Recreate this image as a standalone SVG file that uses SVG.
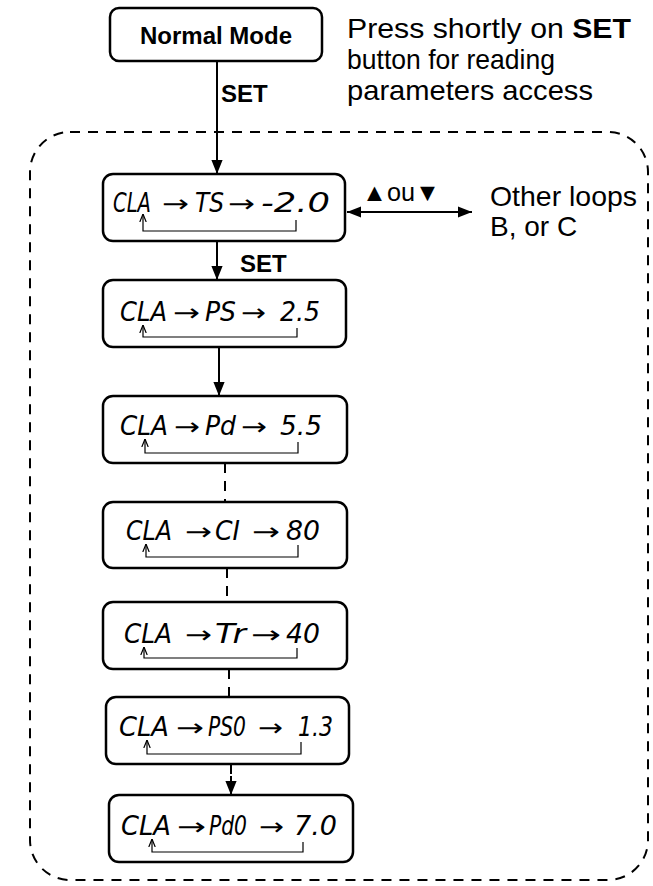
<svg xmlns="http://www.w3.org/2000/svg" width="653" height="886" viewBox="0 0 653 886">
<defs>
<style>
.box{fill:#fff;stroke:#000;stroke-width:2.5}
.lbl{font-family:"Liberation Sans",Arial,sans-serif;fill:#000}
.seg{font-family:"DejaVu Sans",sans-serif;font-style:italic;font-size:26px;fill:#000}
.ar{font-family:"DejaVu Sans",sans-serif;font-size:24px;fill:#000}
.con{stroke:#000;stroke-width:2;fill:none}
.dash{stroke:#000;stroke-width:2;fill:none;stroke-dasharray:10 8}
.brk{stroke:#000;stroke-width:1.2;fill:none}
</style>
<marker id="ah2" viewBox="0 0 10 10" refX="10" refY="5" markerWidth="14" markerHeight="14" orient="auto-start-reverse" markerUnits="userSpaceOnUse">
<path d="M0,1 L10,5 L0,9 z" fill="#000"/>
</marker>
<marker id="sm" viewBox="0 0 10 10" refX="10" refY="5" markerWidth="8" markerHeight="8" orient="auto" markerUnits="userSpaceOnUse">
<path d="M0,1 L10,5 L0,9" fill="none" stroke="#000" stroke-width="1.5"/>
</marker>
</defs>
<rect width="653" height="886" fill="#fff"/>

<path class="dash" d="M70,132 H608 A40,40 0 0 1 648,172 V840 A40,40 0 0 1 608,880 H70 A40,40 0 0 1 30,840 V172 A40,40 0 0 1 70,132 Z"/>

<g id="connectors">
<line class="con" x1="217" y1="61" x2="217" y2="174" marker-end="url(#ah2)"/>
<line class="con" x1="217" y1="241" x2="217" y2="280" marker-end="url(#ah2)"/>
<line class="con" x1="219" y1="347" x2="219" y2="396" marker-end="url(#ah2)"/>
<line class="dash" x1="225" y1="463" x2="225" y2="502"/>
<line class="dash" x1="227" y1="568" x2="227" y2="602"/>
<line class="dash" x1="229" y1="669" x2="229" y2="697"/>
<line class="dash" x1="231" y1="764" x2="231" y2="778" stroke-dasharray="6 4"/>
<line class="con" x1="231" y1="776" x2="231" y2="795" marker-end="url(#ah2)"/>
<line class="con" x1="347" y1="212" x2="472" y2="212" marker-start="url(#ah2)" marker-end="url(#ah2)"/>
<text class="lbl" x="221" y="102" font-size="24" font-weight="bold">SET</text>
<text class="lbl" x="240" y="272" font-size="24" font-weight="bold">SET</text>
<text class="lbl" x="362" y="201" font-size="25" textLength="78" lengthAdjust="spacingAndGlyphs">▲ou▼</text>
</g>

<g id="normal-mode">
<rect class="box" x="110" y="8" width="212" height="53" rx="9"/>
<text class="lbl" x="216" y="44" font-size="24" font-weight="bold" text-anchor="middle">Normal Mode</text>
</g>

<g id="note">
<text class="lbl" x="347" y="38" font-size="28" textLength="284" lengthAdjust="spacingAndGlyphs">Press shortly on <tspan font-weight="bold">SET</tspan></text>
<text class="lbl" x="347" y="69" font-size="28" textLength="208" lengthAdjust="spacingAndGlyphs">button for reading</text>
<text class="lbl" x="347" y="100" font-size="28" textLength="246" lengthAdjust="spacingAndGlyphs">parameters access</text>
</g>

<g id="other-loops">
<text class="lbl" x="490" y="206" font-size="28" textLength="147" lengthAdjust="spacingAndGlyphs">Other loops</text>
<text class="lbl" x="490" y="236" font-size="28">B, or C</text>
</g>

<g id="ts">
<rect class="box" x="103" y="174" width="242" height="67" rx="10"/>
<text class="seg" x="113" y="212" textLength="38" lengthAdjust="spacingAndGlyphs">CLA</text>
<text class="ar" x="162" y="212" textLength="27" lengthAdjust="spacingAndGlyphs">→</text>
<text class="seg" x="195" y="212" textLength="29" lengthAdjust="spacingAndGlyphs">TS</text>
<text class="ar" x="228" y="212" textLength="27" lengthAdjust="spacingAndGlyphs">→</text>
<text class="seg" x="261" y="212" textLength="69" lengthAdjust="spacingAndGlyphs">-2.0</text>
<path class="brk" d="M296,220 V231 H143 V214" marker-end="url(#sm)"/>
</g>

<g id="ps">
<rect class="box" x="103" y="280" width="243" height="67" rx="10"/>
<text class="seg" x="120" y="321" textLength="47" lengthAdjust="spacingAndGlyphs">CLA</text>
<text class="ar" x="173" y="321" textLength="27" lengthAdjust="spacingAndGlyphs">→</text>
<text class="seg" x="205" y="321" textLength="31" lengthAdjust="spacingAndGlyphs">PS</text>
<text class="ar" x="241" y="321" textLength="25" lengthAdjust="spacingAndGlyphs">→</text>
<text class="seg" x="280" y="321" textLength="40" lengthAdjust="spacingAndGlyphs">2.5</text>
<path class="brk" d="M297,328 V337 H143 V325" marker-end="url(#sm)"/>
</g>

<g id="pd">
<rect class="box" x="103" y="396" width="244" height="67" rx="10"/>
<text class="seg" x="120" y="435" textLength="48" lengthAdjust="spacingAndGlyphs">CLA</text>
<text class="ar" x="174" y="435" textLength="26" lengthAdjust="spacingAndGlyphs">→</text>
<text class="seg" x="205" y="435" textLength="31" lengthAdjust="spacingAndGlyphs">Pd</text>
<text class="ar" x="241" y="435" textLength="26" lengthAdjust="spacingAndGlyphs">→</text>
<text class="seg" x="280" y="435" textLength="42" lengthAdjust="spacingAndGlyphs">5.5</text>
<path class="brk" d="M298,442 V453 H145 V439" marker-end="url(#sm)"/>
</g>

<g id="ci">
<rect class="box" x="103" y="502" width="244" height="66" rx="10"/>
<text class="seg" x="126" y="540" textLength="46" lengthAdjust="spacingAndGlyphs">CLA</text>
<text class="ar" x="185" y="540" textLength="27" lengthAdjust="spacingAndGlyphs">→</text>
<text class="seg" x="215" y="540" textLength="25" lengthAdjust="spacingAndGlyphs">CI</text>
<text class="ar" x="252" y="540" textLength="28" lengthAdjust="spacingAndGlyphs">→</text>
<text class="seg" x="286" y="540" textLength="34" lengthAdjust="spacingAndGlyphs">80</text>
<path class="brk" d="M298,545 V557 H146 V544" marker-end="url(#sm)"/>
</g>

<g id="tr">
<rect class="box" x="103" y="602" width="244" height="67" rx="10"/>
<text class="seg" x="124" y="643" textLength="48" lengthAdjust="spacingAndGlyphs">CLA</text>
<text class="ar" x="185" y="643" textLength="27" lengthAdjust="spacingAndGlyphs">→</text>
<text class="seg" x="215" y="643" textLength="31" lengthAdjust="spacingAndGlyphs">Tr</text>
<text class="ar" x="251" y="643" textLength="30" lengthAdjust="spacingAndGlyphs">→</text>
<text class="seg" x="286" y="643" textLength="34" lengthAdjust="spacingAndGlyphs">40</text>
<path class="brk" d="M297,648 V658 H144 V647" marker-end="url(#sm)"/>
</g>

<g id="ps0">
<rect class="box" x="106" y="697" width="243" height="67" rx="10"/>
<text class="seg" x="119" y="736" textLength="50" lengthAdjust="spacingAndGlyphs">CLA</text>
<text class="ar" x="176" y="736" textLength="28" lengthAdjust="spacingAndGlyphs">→</text>
<text class="seg" x="208" y="736" textLength="38" lengthAdjust="spacingAndGlyphs">PS0</text>
<text class="ar" x="258" y="736" textLength="25" lengthAdjust="spacingAndGlyphs">→</text>
<text class="seg" x="298" y="736" textLength="35" lengthAdjust="spacingAndGlyphs">1.3</text>
<path class="brk" d="M301,742 V754 H147 V740" marker-end="url(#sm)"/>
</g>

<g id="pd0">
<rect class="box" x="109" y="795" width="244" height="67" rx="10"/>
<text class="seg" x="121" y="835" textLength="50" lengthAdjust="spacingAndGlyphs">CLA</text>
<text class="ar" x="177" y="835" textLength="29" lengthAdjust="spacingAndGlyphs">→</text>
<text class="seg" x="209" y="835" textLength="38" lengthAdjust="spacingAndGlyphs">Pd0</text>
<text class="ar" x="259" y="835" textLength="25" lengthAdjust="spacingAndGlyphs">→</text>
<text class="seg" x="294" y="835" textLength="43" lengthAdjust="spacingAndGlyphs">7.0</text>
<path class="brk" d="M303,842 V852 H152 V839" marker-end="url(#sm)"/>
</g>
</svg>
